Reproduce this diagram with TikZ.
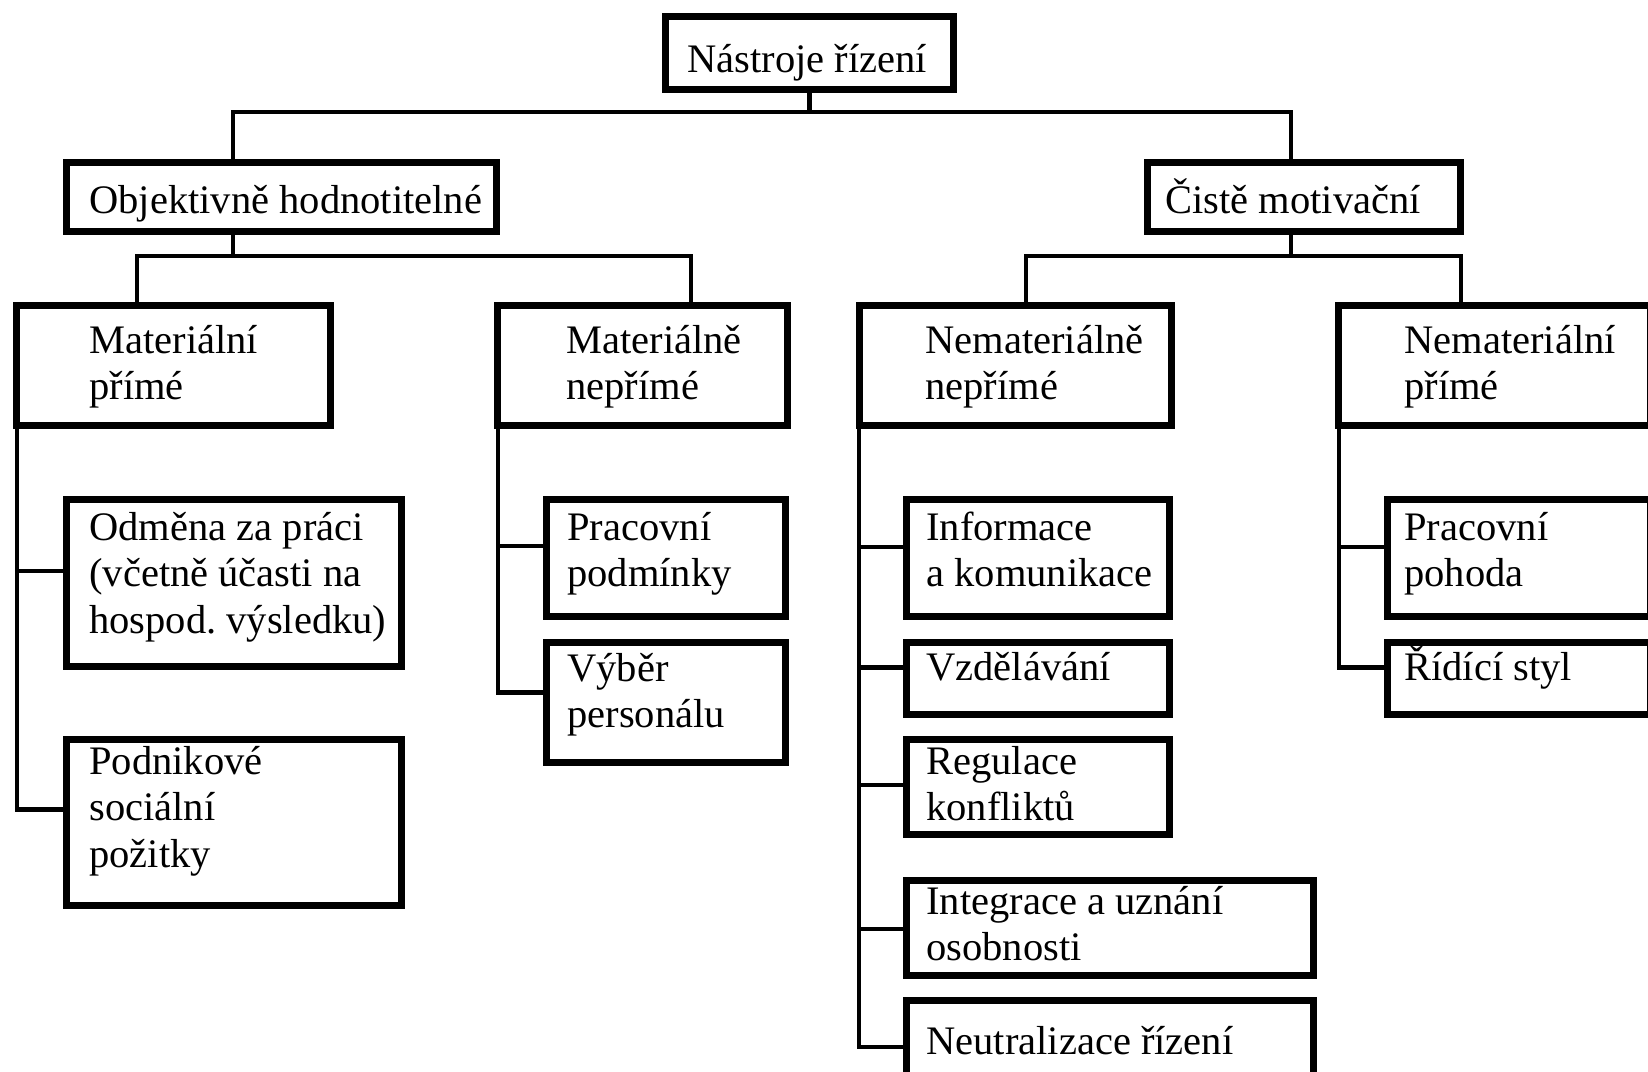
\documentclass[tikz,border=0pt]{standalone}
\usepackage{fontspec}
\setmainfont{Liberation Serif}
\frenchspacing
\newcommand\tstrut{\rule{0pt}{24pt}}
\tikzset{
  box/.style={draw, rectangle, line width=3.5pt, inner sep=0pt},
  conn/.style={line width=2.4pt},
  txt/.style={anchor=north west, inner sep=0pt, align=left,
    font=\fontsize{20.25pt}{23.25pt}\selectfont},
}
% name, L, T, R, B  (pixel units of the reference, y downward)
\newcommand\bx[5]{%
  \node[box, minimum width={(#4-#2-7)*0.5pt}, minimum height={(#5-#3-7)*0.5pt}]
    (#1) at ({(#2+#4)/2},{(#3+#5)/2}) {};}
% name, x, first baseline, text
\newcommand\tx[4]{\node[txt] (#1-t) at (#2,{#3-48}) {\tstrut #4};}
\begin{document}
\begin{tikzpicture}[x=0.5pt,y=-0.5pt]
\useasboundingbox (0,0) rectangle (1648,1071);
\fill[white] (0,0) rectangle (1648,1071);

% boxes
\bx{root}{662}{13}{957}{93}
\bx{obj}{63}{159}{500}{235}
\bx{cis}{1144}{159}{1464}{235}
\bx{mp}{13}{302}{334}{429}
\bx{mn}{494}{302}{791}{429}
\bx{nn}{856}{302}{1175}{429}
\bx{np}{1335}{302}{1654}{429}
\bx{odm}{63}{496}{405}{670}
\bx{pod}{63}{736}{405}{909}
\bx{pp}{543}{496}{789}{620}
\bx{vp}{543}{639}{789}{766}
\bx{inf}{903}{496}{1173}{620}
\bx{vzd}{903}{639}{1173}{718}
\bx{reg}{903}{736}{1173}{838}
\bx{int}{903}{877}{1317}{979}
\bx{neu}{903}{997}{1317}{1095}
\bx{poh}{1384}{496}{1654}{620}
\bx{rid}{1384}{639}{1654}{718}

% texts
\tx{root}{687}{72}{Nástroje řízení}
\tx{obj}{89}{213}{Objektivně hodnotitelné}
\tx{cis}{1165}{213}{Čistě motivační}
\tx{mp}{89}{353}{Materiální\\přímé}
\tx{mn}{566}{353}{Materiálně\\nepřímé}
\tx{nn}{925}{353}{Nemateriálně\\nepřímé}
\tx{np}{1404}{353}{Nemateriální\\přímé}
\tx{odm}{89}{540}{Odměna za práci\\(včetně účasti na\\hospod. výsledku)}
\tx{pod}{89}{774}{Podnikové\\sociální\\požitky}
\tx{pp}{567}{540}{Pracovní\\podmínky}
\tx{vp}{567}{681}{Výběr\\personálu}
\tx{inf}{926}{540}{Informace\\a komunikace}
\tx{vzd}{926}{680}{Vzdělávání}
\tx{reg}{926}{774}{Regulace\\konfliktů}
\tx{int}{926}{914}{Integrace a uznání\\osobnosti}
\tx{neu}{926}{1054}{Neutralizace řízení}
\tx{poh}{1404}{540}{Pracovní\\pohoda}
\tx{rid}{1404}{680}{Řídící styl}

% junction coordinates
\coordinate (h1) at (0,112);
\coordinate (h2) at (0,256);
\coordinate (xo) at (233,0);
\coordinate (xc) at (1291,0);
\coordinate (xmp) at (137,0);
\coordinate (xmn) at (691,0);
\coordinate (xnn) at (1026,0);
\coordinate (xnp) at (1461,0);
\coordinate (bmp) at (17,0);
\coordinate (bmn) at (498,0);
\coordinate (bnn) at (859,0);
\coordinate (bnp) at (1339,0);

% level 0 -> 1
\draw[conn] (root.south) -- (root.south |- h1);
\draw[conn] (obj.north -| xo) |- (h1 -| xc) -- (cis.north -| xc);
% level 1 -> 2
\draw[conn] (obj.south -| xo) -- (h2 -| xo);
\draw[conn] (mp.north -| xmp) |- (h2 -| xmn) -- (mn.north -| xmn);
\draw[conn] (cis.south -| xc) -- (h2 -| xc);
\draw[conn] (nn.north -| xnn) |- (h2 -| xnp) -- (np.north -| xnp);
% level 2 -> 3
\draw[conn] (mp.south -| bmp) |- ([yshift=6pt]odm.west);
\draw[conn] (mp.south -| bmp) |- ([yshift=6.5pt]pod.west);
\draw[conn] (mn.south -| bmn) |- ([yshift=6pt]pp.west);
\draw[conn] (mn.south -| bmn) |- ([yshift=5pt]vp.west);
\draw[conn] (nn.south -| bnn) |- ([yshift=5.5pt]inf.west);
\draw[conn] (nn.south -| bnn) |- ([yshift=5.5pt]vzd.west);
\draw[conn] (nn.south -| bnn) |- ([yshift=1pt]reg.west);
\draw[conn] (nn.south -| bnn) |- ([yshift=-0.5pt]int.west);
\draw[conn] (nn.south -| bnn) |- ([yshift=-0.5pt]neu.west);
\draw[conn] (np.south -| bnp) |- ([yshift=5.5pt]poh.west);
\draw[conn] (np.south -| bnp) |- ([yshift=5.5pt]rid.west);
\end{tikzpicture}
\end{document}
